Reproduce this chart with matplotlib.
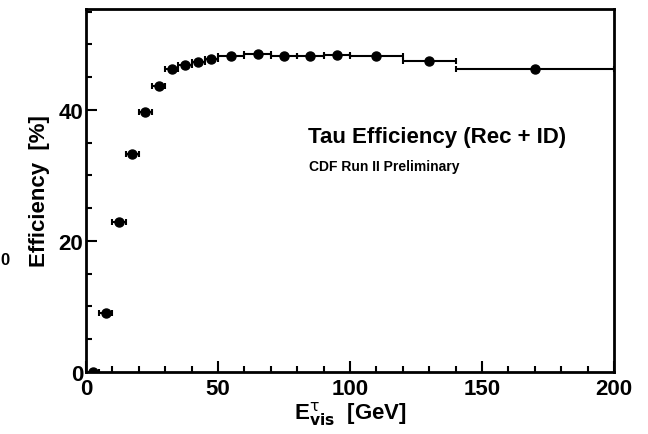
import matplotlib
matplotlib.use("Agg")
import matplotlib.pyplot as plt
from matplotlib.ticker import MultipleLocator

plt.rcParams['font.family'] = ['Liberation Sans', 'DejaVu Sans']

bin_lo = [0, 5, 10, 15, 20, 25, 30, 35, 40, 45, 50, 60, 70, 80, 90, 100, 120, 140]
bin_hi = [5, 10, 15, 20, 25, 30, 35, 40, 45, 50, 60, 70, 80, 90, 100, 120, 140, 200]
eff = [0.0, 9.0, 22.9, 33.3, 39.7, 43.6, 46.3, 46.8, 47.3, 47.7, 48.2, 48.6, 48.2, 48.2, 48.4, 48.2, 47.5, 46.3]

x = [(a + b) / 2 for a, b in zip(bin_lo, bin_hi)]
xerr = [(b - a) / 2 for a, b in zip(bin_lo, bin_hi)]

fig = plt.figure(figsize=(6.48, 4.35), dpi=100)
ax = fig.add_axes([86/648, 1 - 373/435, (614-86)/648, (373-10)/435])

ax.errorbar(x, eff, xerr=xerr, fmt='o', color='black', ms=6.5, elinewidth=1.5,
            capsize=2.5, capthick=1.5)

ax.set_xlim(0, 200)
ax.set_ylim(0, 55.4)
ax.xaxis.set_major_locator(MultipleLocator(50))
ax.xaxis.set_minor_locator(MultipleLocator(10))
ax.yaxis.set_major_locator(MultipleLocator(20))
ax.yaxis.set_minor_locator(MultipleLocator(5))
ax.tick_params(which='both', direction='in', top=False, right=False, width=1.5)
ax.tick_params(which='major', length=8, labelsize=16, pad=2)
ax.tick_params(axis='x', which='major', pad=4)
ax.tick_params(which='minor', length=4)
for lab in ax.get_xticklabels() + ax.get_yticklabels():
    lab.set_fontweight('bold')
for s in ax.spines.values():
    s.set_linewidth(2)

ax.set_xlabel(r'E$^{\mathrm{\tau}}_{\mathbf{vis}}$  [GeV]', fontsize=16, fontweight='bold', labelpad=0)
ax.set_ylabel('Efficiency  [%]', fontsize=16, fontweight='bold', labelpad=6)

fig.text(308/648, 1 - 138/435, 'Tau Efficiency (Rec + ID)', fontsize=16, fontweight='bold', va='center')
fig.text(309/648, 1 - 167/435, 'CDF Run II Preliminary', fontsize=10, fontweight='bold', va='center')
fig.text(0/648, 1 - 261/435, '0', fontsize=12, fontweight='bold', va='center')

fig.savefig('out.png', dpi=100)
